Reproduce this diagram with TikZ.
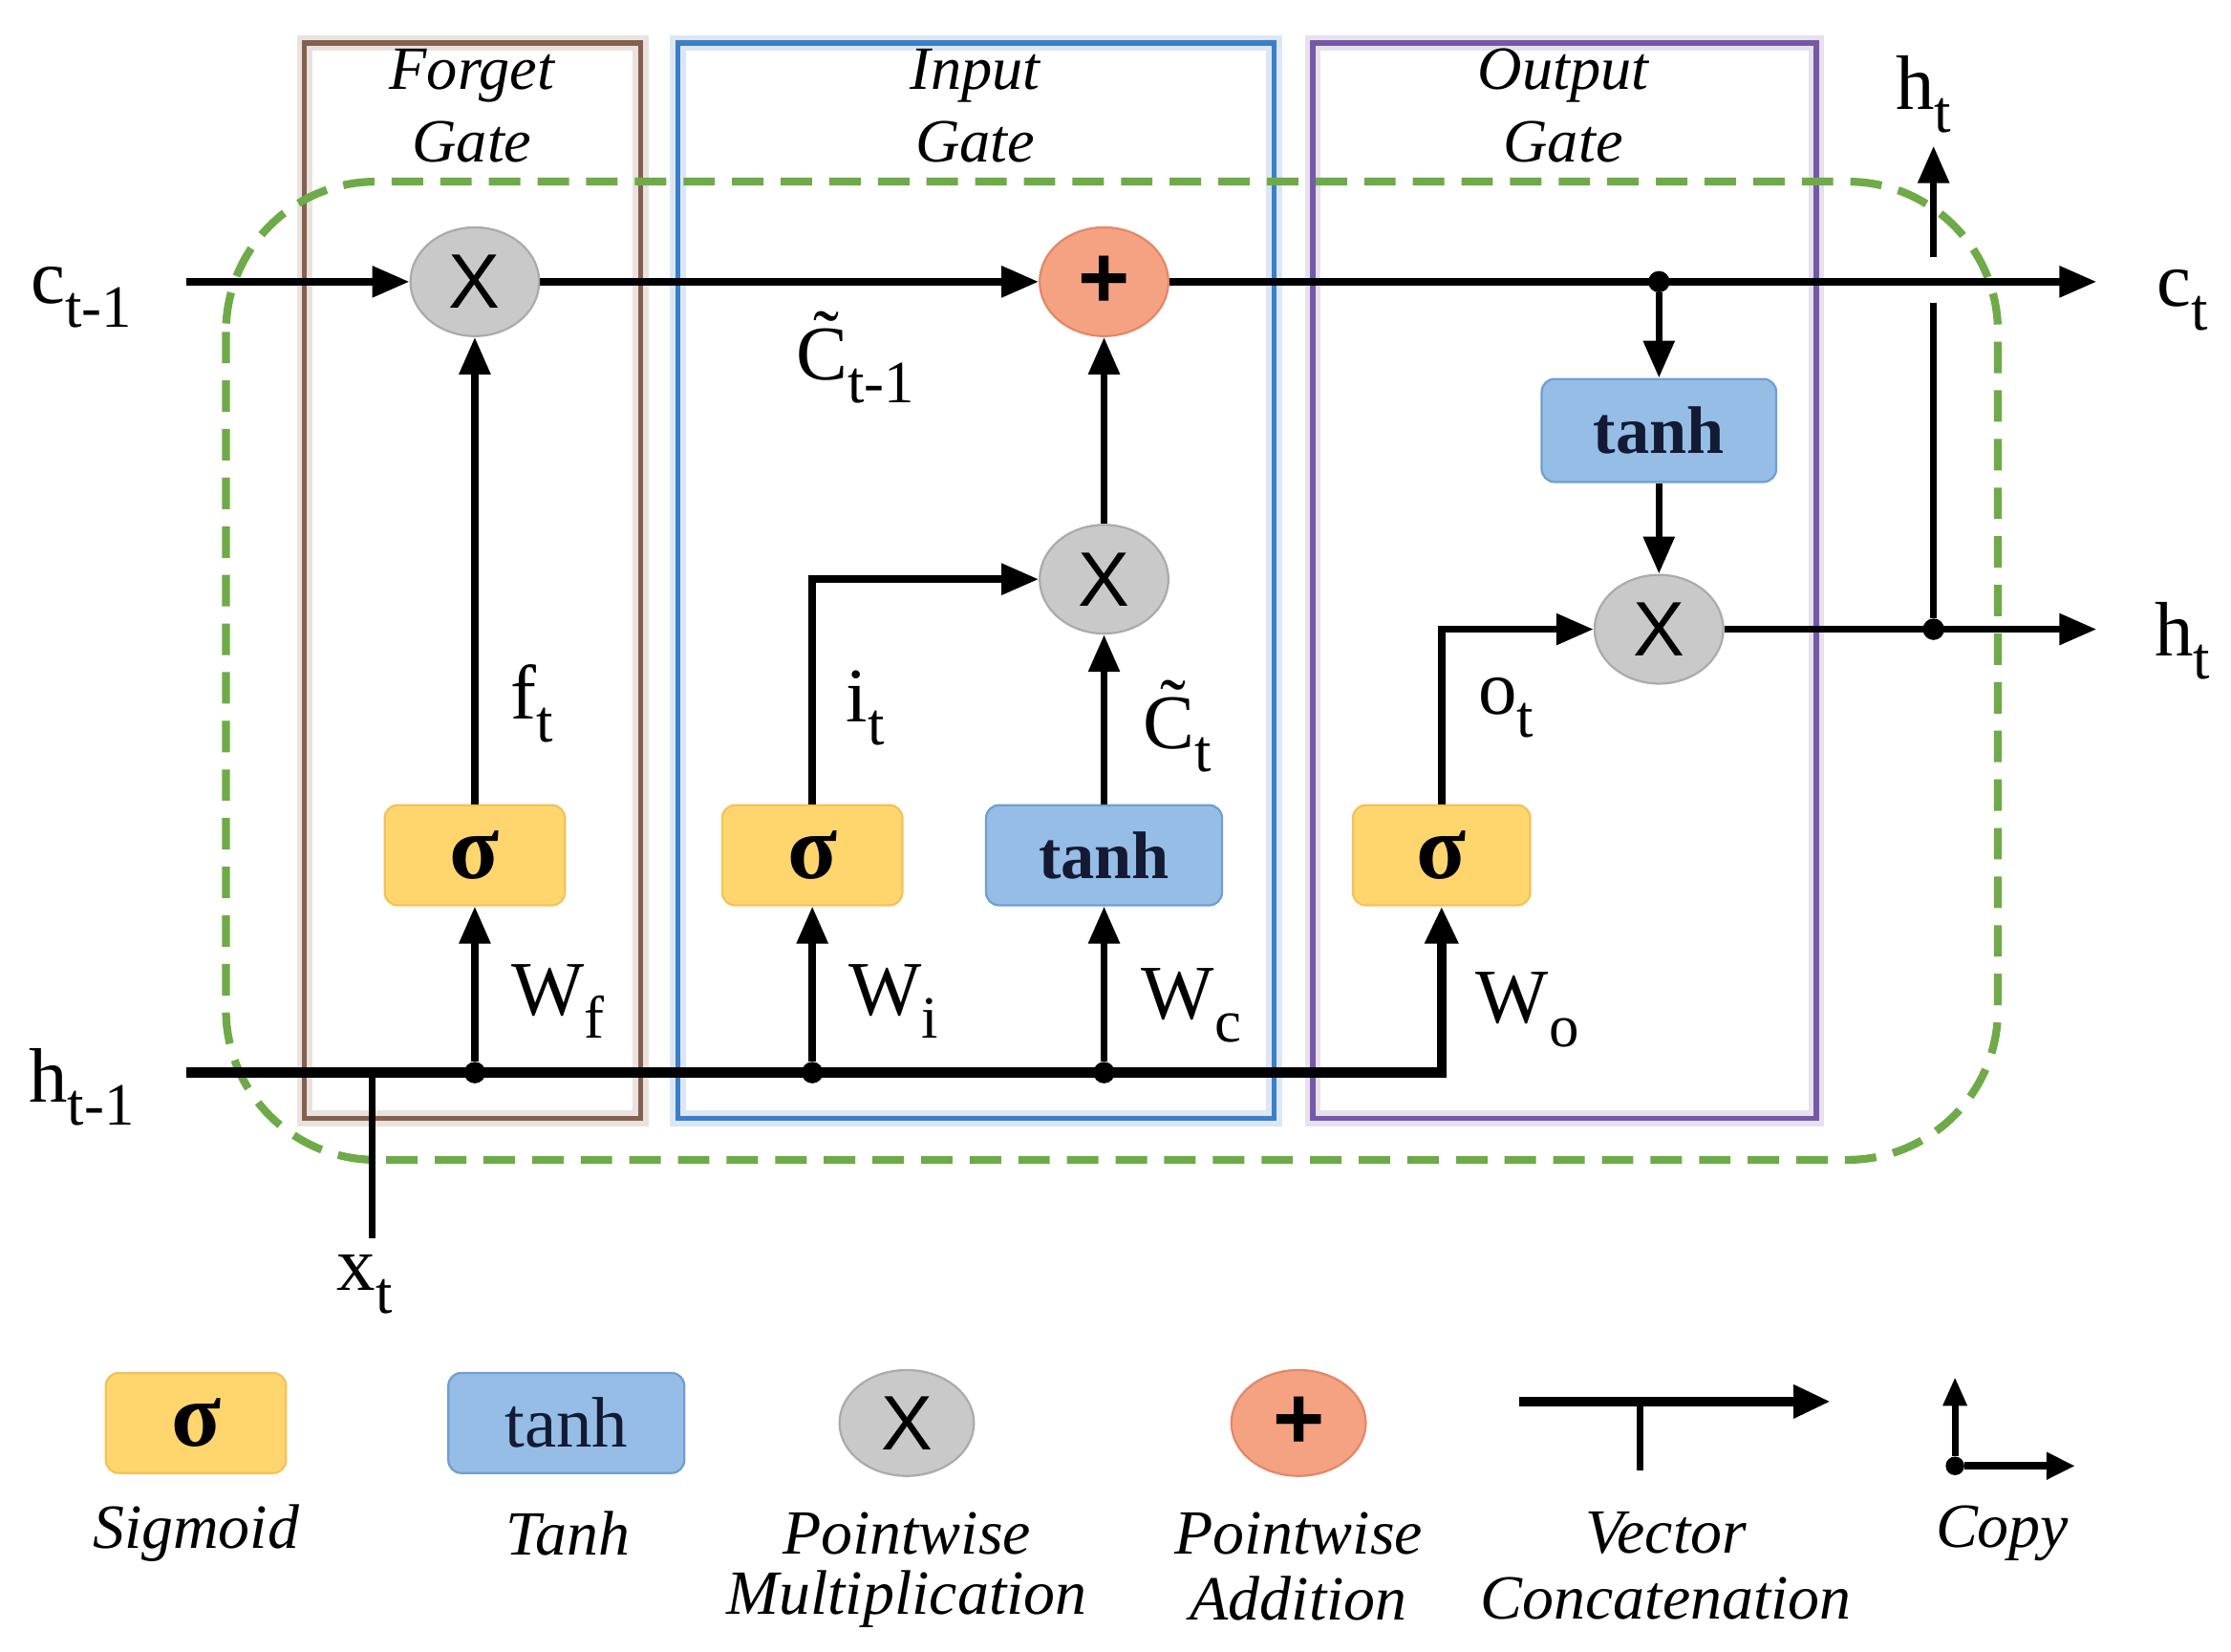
\documentclass[tikz,border=0pt]{standalone}
\usepackage{fontspec}
\setmainfont{Liberation Serif}
\newfontfamily\sansf{Liberation Sans}
\usetikzlibrary{shapes.geometric,arrows.meta}
\definecolor{sigfill}{HTML}{FFD56E}
\definecolor{sigdraw}{HTML}{F2C35A}
\definecolor{tanhfill}{HTML}{95BDE6}
\definecolor{tanhdraw}{HTML}{6F9FD2}
\definecolor{tanhtext}{HTML}{141A33}
\definecolor{mulfill}{HTML}{C9C9C9}
\definecolor{muldraw}{HTML}{ABABAB}
\definecolor{addfill}{HTML}{F5A283}
\definecolor{adddraw}{HTML}{E3876A}
\definecolor{fgcol}{HTML}{86604F}
\definecolor{igcol}{HTML}{3C7EC8}
\definecolor{ogcol}{HTML}{7558A8}
\definecolor{cellgreen}{HTML}{6FAA48}
\newcommand\lbl[2]{#1\raisebox{-0.3em}{\fontsize{42}{42}\selectfont #2}}
\tikzset{
  wire/.style={line width=5pt,black},
  hwire/.style={line width=7pt,black},
  arr/.style={wire,-{Triangle[length=26pt,width=21pt]}},
  harr/.style={hwire,-{Triangle[length=26pt,width=22pt]}},
  dotnode/.style={circle,fill=black,inner sep=0pt,minimum size=15pt},
  sigbox/.style={rectangle,rounded corners=9pt,fill=sigfill,draw=sigdraw,line width=1.5pt,
     minimum width=126pt,minimum height=70pt,inner sep=0pt,font=\fontsize{64}{64}\selectfont\bfseries},
  tanhbox/.style={rectangle,rounded corners=9pt,fill=tanhfill,draw=tanhdraw,line width=1.5pt,
     minimum width=165pt,minimum height=70pt,inner sep=0pt,text=tanhtext,font=\fontsize{47}{47}\selectfont\bfseries},
  mulop/.style={ellipse,fill=mulfill,draw=muldraw,line width=1.5pt,minimum width=90pt,
     minimum height=76pt,inner sep=0pt,font=\sansf\fontsize{54}{54}\selectfont},
  addop/.style={ellipse,fill=addfill,draw=adddraw,line width=1.5pt,minimum width=90pt,
     minimum height=76pt,inner sep=0pt,font=\sansf\fontsize{62}{62}\selectfont\bfseries},
  lab/.style={inner sep=0pt,font=\fontsize{54}{54}\selectfont},
  ttl/.style={inner sep=0pt,font=\fontsize{43}{43}\selectfont\itshape},
  leg/.style={inner sep=0pt,font=\fontsize{44}{44}\selectfont\itshape},
  gatebox/.style={line width=3.5pt},
  glow/.style={line width=11pt,draw opacity=0.18},
}
\begin{document}
\begin{tikzpicture}[x=1pt,y=-1pt]
\useasboundingbox[fill=white] (0,0) rectangle (1560,1155);

% gate boxes
\draw[glow,fgcol] (213,30) rectangle (448,782);
\draw[glow,igcol] (474,30) rectangle (891,782);
\draw[glow,ogcol] (918,30) rectangle (1270,782);
\draw[gatebox,fgcol] (213,30) rectangle (448,782);
\draw[gatebox,igcol] (474,30) rectangle (891,782);
\draw[gatebox,ogcol] (918,30) rectangle (1270,782);

% titles
\node[ttl] (tf1) at (330,53) {Forget};
\node[ttl] (tf2) at (330,99) {Gate};
\node[ttl] (ti1) at (682,53) {Input};
\node[ttl] (ti2) at (682,99) {Gate};
\node[ttl] (to1) at (1093,53) {Output};
\node[ttl] (to2) at (1093,99) {Gate};

% cell boundary
\draw[cellgreen,line width=5.5pt,dash pattern=on 22pt off 12pt,rounded corners=105pt]
  (158,127) rectangle (1397,811);

% operators
\node[mulop] (x1) at (332,197) {X};
\node[addop] (plus) at (772,197) {+};
\node[mulop] (x2) at (772,405) {X};
\node[mulop] (x3) at (1160,440) {X};
\node[sigbox] (sigf) at (332,598) {σ};
\node[sigbox] (sigi) at (568,598) {σ};
\node[tanhbox] (tanhc) at (772,598) {tanh};
\node[sigbox,minimum width=124pt] (sigo) at (1008,598) {σ};
\node[tanhbox,minimum width=164pt,minimum height=72pt] (tanho) at (1160,301) {tanh};

% coordinates of free ends
\coordinate (cin) at (130,197);
\coordinate (cout) at (1466,197);
\coordinate (hin) at (130,750);
\coordinate (hout) at (1466,440);
\coordinate (gapbot) at (1352,212);
\coordinate (gaptop) at (1352,180);
\coordinate (htop) at (1352,102);
\coordinate (xbot) at (260,866);
\coordinate (xjoin) at (260,750);

\node[dotnode] (cd) at (1160,197) {};
\node[dotnode] (hd) at (1352,440) {};
\node[dotnode] (df) at (332,750) {};
\node[dotnode] (di) at (568,750) {};
\node[dotnode] (dc) at (772,750) {};

% cell state line
\draw[arr] (cin) -- (x1);
\draw[arr] (x1) -- (plus);
\draw[arr] (plus) -- (cout);
\draw[arr] (cd) -- (tanho);
\draw[arr] (tanho) -- (x3);
\draw[arr] (x3) -- (hout);
\draw[wire] (hd) -- (gapbot);
\draw[arr] (gaptop) -- (htop);

% hidden input line
\draw[harr] (hin) -| (sigo);
\draw[line width=4.5pt] (xjoin) -- (xbot);
\draw[arr] (df) -- (sigf);
\draw[arr] (di) -- (sigi);
\draw[arr] (dc) -- (tanhc);

% gate outputs
\draw[arr] (sigf) -- (x1);
\draw[arr] (sigi.north) |- (x2);
\draw[arr] (tanhc) -- (x2);
\draw[arr] (x2) -- (plus);
\draw[arr] (sigo.north) |- (x3);

% labels
\node[lab] (lc1) at (57,208) {\lbl{c}{t-1}};
\node[lab] (lh1) at (57,760) {\lbl{h}{t-1}};
\node[lab] (lct) at (1526,210) {\lbl{c}{t}};
\node[lab] (lht) at (1526,448) {\lbl{h}{t}};
\node[lab] (lhtop) at (1345,66) {\lbl{h}{t}};
\node[lab] (lct1) at (598,250) {\lbl{\~{C}}{t-1}};
\node[lab] (lft) at (372,492) {\lbl{f}{t}};
\node[lab] (lit) at (605,495) {\lbl{i}{t}};
\node[lab] (lctl) at (823,508) {\lbl{\~{C}}{t}};
\node[lab] (lot) at (1053,495) {\lbl{o}{t}};
\node[lab] (lwf) at (390,700) {\lbl{W}{f}};
\node[lab] (lwi) at (625,700) {\lbl{W}{i}};
\node[lab] (lwc) at (833,703) {\lbl{W}{c}};
\node[lab] (lwo) at (1068,706) {\lbl{W}{o}};
\node[lab] (lxt) at (255,898) {\lbl{x}{t}};

% legend
\node[sigbox] (gsig) at (137,995) {σ};
\node[tanhbox,font=\fontsize{50}{50}\selectfont] (gtanh) at (396,995) {tanh};
\node[mulop,minimum width=94pt,minimum height=74pt] (gmul) at (634,995) {X};
\node[addop,minimum width=94pt,minimum height=74pt] (gadd) at (908,995) {+};
\coordinate (va) at (1062,980);
\coordinate (vb) at (1280,980);
\coordinate (vc) at (1147,980);
\coordinate (vd) at (1147,1028);
\draw[harr] (va) -- (vb);
\draw[line width=4.5pt] (vc) -- (vd);
\node[dotnode,minimum size=13pt] (cp) at (1367,1025) {};
\coordinate (cpu) at (1367,963);
\coordinate (cpr) at (1451,1025);
\draw[line width=4.5pt,-{Triangle[length=20pt,width=16pt]}] (cp) -- (cpu);
\draw[line width=5.5pt,-{Triangle[length=20pt,width=18pt]}] (cp) -- (cpr);

\node[leg] (gl1) at (137,1072) {Sigmoid};
\node[leg] (gl2) at (397,1072) {Tanh};
\node[leg] (gl3a) at (634,1072) {Pointwise};
\node[leg] (gl3b) at (634,1118) {Multiplication};
\node[leg] (gl4a) at (908,1072) {Pointwise};
\node[leg] (gl4b) at (908,1118) {Addition};
\node[leg] (gl5a) at (1165,1072) {Vector};
\node[leg] (gl5b) at (1165,1118) {Concatenation};
\node[leg] (gl6) at (1400,1072) {Copy};
\end{tikzpicture}
\end{document}
